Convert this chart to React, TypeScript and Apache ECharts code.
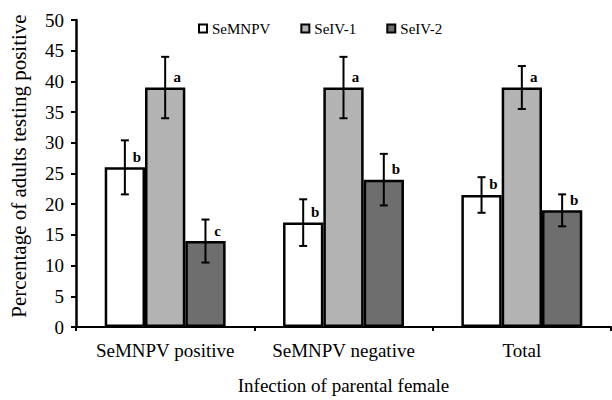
import React, { useEffect, useRef } from "react";
import * as echarts from "echarts";

const categories = ["SeMNPV positive", "SeMNPV negative", "Total"];
const seriesNames = ["SeMNPV", "SeIV-1", "SeIV-2"];
const semnpvValues = [26, 17, 21.5];
const seiv1Values = [39, 39, 39];
const seiv2Values = [14, 24, 19];
const semnpvErrors = [4.4, 3.8, 2.9];
const seiv1Errors = [5, 5, 3.5];
const seiv2Errors = [3.5, 4.2, 2.6];
const semnpvLetters = ["b", "b", "b"];
const seiv1Letters = ["a", "a", "a"];
const seiv2Letters = ["c", "b", "b"];
const yTicks = [0, 5, 10, 15, 20, 25, 30, 35, 40, 45, 50];

const FONT = '"Liberation Serif", "Times New Roman", serif';
const BAR_RATIO = 0.226;
const colors = ["#ffffff", "#b3b3b3", "#6e6e6e"];

export default function App() {
  const ref = useRef<HTMLDivElement>(null);
  useEffect(() => {
    if (!ref.current) return;
    const chart = echarts.init(ref.current, undefined, { renderer: "svg" });
    const values = [semnpvValues, seiv1Values, seiv2Values];
    const errors = [semnpvErrors, seiv1Errors, seiv2Errors];
    const letters = [semnpvLetters, seiv1Letters, seiv2Letters];

    const errData: number[][] = [];
    values.forEach((vals, s) => {
      vals.forEach((v, c) => {
        errData.push([c, s, v - errors[s][c], v + errors[s][c]]);
      });
    });

    const barSeries = values.map((vals, s) => ({
      type: "bar",
      name: seriesNames[s],
      data: vals,
      barWidth: BAR_RATIO * 100 + "%",
      barGap: "0%",
      itemStyle: { color: colors[s], borderColor: "#000", borderWidth: 2.5 },
      label: {
        show: true,
        position: "top",
        distance: 3,
        offset: [12, 0],
        formatter: (p: any) => letters[s][p.dataIndex],
        fontFamily: FONT,
        fontWeight: "bold",
        fontSize: 15,
        color: "#000",
      },
      z: 2,
    }));

    const option: any = {
      animation: false,
      backgroundColor: "#fff",
      grid: { left: 75, right: 1, top: 20, bottom: 70, containLabel: false },
      legend: {
        data: seriesNames,
        left: 198,
        top: 21,
        padding: 0,
        itemWidth: 8,
        itemHeight: 8,
        itemGap: 30,
        icon: "rect",
        itemStyle: { borderColor: "#000", borderWidth: 2 },
        textStyle: { fontFamily: FONT, fontSize: 15, color: "#000" },
      },
      xAxis: {
        type: "category",
        data: categories,
        name: "Infection of parental female",
        nameLocation: "middle",
        nameGap: 49,
        nameTextStyle: { fontFamily: FONT, fontSize: 19, color: "#000" },
        axisLine: { lineStyle: { color: "#000", width: 2 } },
        axisTick: { show: true, alignWithLabel: false, length: 4, lineStyle: { color: "#000", width: 2 } },
        axisLabel: { interval: 0, fontFamily: FONT, fontSize: 19, color: "#000", margin: 14 },
      },
      yAxis: {
        type: "value",
        min: yTicks[0],
        max: yTicks[yTicks.length - 1],
        interval: 5,
        name: "Percentage of adults testing positive",
        nameLocation: "middle",
        nameGap: 47,
        nameTextStyle: { fontFamily: FONT, fontSize: 21, color: "#000", padding: [0, 0, 0, 15] },
        splitLine: { show: false },
        axisLine: { show: true, lineStyle: { color: "#000", width: 2.5 } },
        axisTick: { show: true, length: 5, lineStyle: { color: "#000", width: 2 } },
        axisLabel: { fontFamily: FONT, fontSize: 19, color: "#000", margin: 12 },
      },
      series: [
        ...barSeries,
        {
          type: "custom",
          name: "errors",
          data: errData,
          encode: { x: 0, y: 3 },
          z: 5,
          renderItem: (params: any, api: any) => {
            const c = api.value(0);
            const s = api.value(1);
            const lo = api.coord([c, api.value(2)]);
            const hi = api.coord([c, api.value(3)]);
            const bandW = api.size([1, 0])[0];
            const barW = bandW * BAR_RATIO;
            const x = lo[0] + (s - 1) * barW;
            const cap = 4;
            const style = { stroke: "#000", lineWidth: 2 };
            return {
              type: "group",
              children: [
                { type: "line", shape: { x1: x, y1: lo[1], x2: x, y2: hi[1] }, style },
                { type: "line", shape: { x1: x - cap, y1: lo[1], x2: x + cap, y2: lo[1] }, style },
                { type: "line", shape: { x1: x - cap, y1: hi[1], x2: x + cap, y2: hi[1] }, style },
              ],
            };
          },
        },
      ],
    };
    chart.setOption(option);
    return () => chart.dispose();
  }, []);
  return (
    <div
      ref={ref}
      style={{ position: "fixed", left: 0, top: 0, width: 612, height: 400 }}
    />
  );
}
